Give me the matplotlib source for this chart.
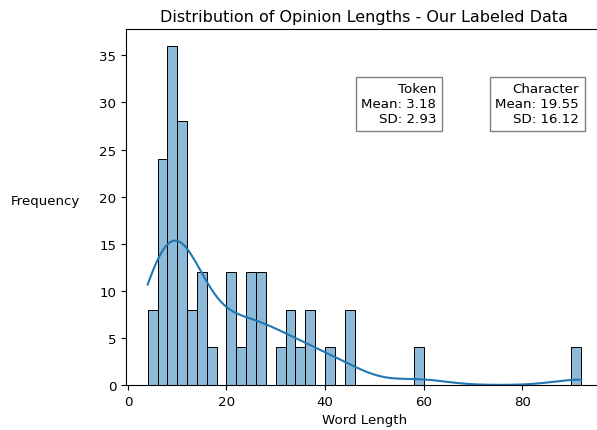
import numpy as np
import matplotlib
matplotlib.use("Agg")
import matplotlib.pyplot as plt
import seaborn as sns

# word lengths of the unique opinions (each appears 4 times in the labeled set)
unique_lengths = [4, 5,
                  6, 6, 6, 7, 7, 7,
                  8, 8, 8, 8, 9, 9, 9, 9, 9,
                  10, 10, 10, 10, 11, 11, 11,
                  12, 13,
                  14, 15, 15,
                  17,
                  20, 21, 21,
                  23,
                  24, 25, 25,
                  26, 27, 27,
                  31,
                  32, 33,
                  35,
                  36, 37,
                  41,
                  44, 45,
                  59,
                  92]
repeats = 4
lengths = np.repeat(unique_lengths, repeats)

token_stats = ("Token", 3.18, 2.93)
char_stats = ("Character", 19.55, 16.12)

plt.rcParams["font.size"] = 9.6

fig = plt.figure(figsize=(5.97, 4.31), dpi=100)
ax = fig.add_axes([0.211, 0.1044, 0.799, 0.826])

sns.histplot(lengths, bins=44, kde=True, ax=ax)

ax.set_title("Distribution of Opinion Lengths - Our Labeled Data")
ax.set_xlabel("Word Length")
ax.set_ylabel("Frequency", rotation=0, ha="right", labelpad=14)

box = dict(facecolor="white", edgecolor="gray")
for x, (name, mean, sd) in [(0.65, token_stats), (0.95, char_stats)]:
    ax.text(x, 0.85, f"{name}\nMean: {mean:.2f}\nSD: {sd:.2f}",
            transform=ax.transAxes, ha="right", va="top", multialignment="right",
            bbox=box)

plt.savefig("out.png", dpi=100)
plt.close()
